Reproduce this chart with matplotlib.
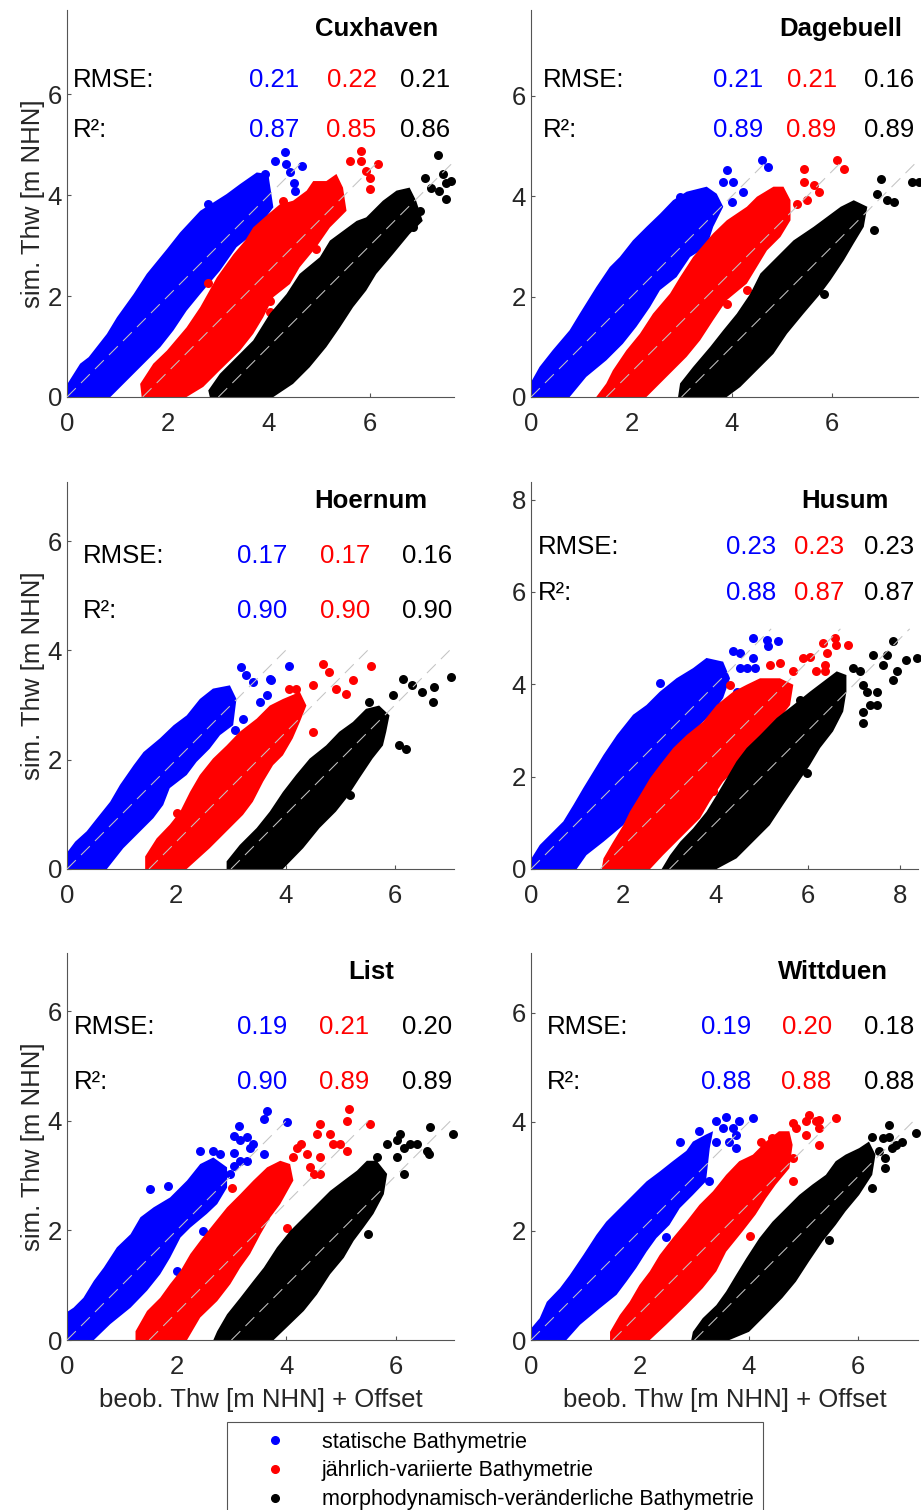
import numpy as np
import matplotlib.pyplot as plt
from matplotlib.lines import Line2D

plt.rcParams['font.family'] = ['Liberation Sans', 'DejaVu Sans']

# DATEN
stations = ["Cuxhaven", "Dagebuell", "Hoernum", "Husum", "List", "Wittduen"]
series_names = ["statische Bathymetrie",
                "jährlich-variierte Bathymetrie",
                "morphodynamisch-veränderliche Bathymetrie"]
series_colors = ["#0000ff", "#ff0000", "#000000"]
offsets = [0.0, 1.5, 3.0]

rmse_values = [[0.21, 0.22, 0.21], [0.21, 0.21, 0.16], [0.17, 0.17, 0.16],
               [0.23, 0.23, 0.23], [0.19, 0.21, 0.20], [0.19, 0.20, 0.18]]
r2_values = [[0.87, 0.85, 0.86], [0.89, 0.89, 0.89], [0.90, 0.90, 0.90],
             [0.88, 0.87, 0.87], [0.90, 0.89, 0.89], [0.88, 0.88, 0.88]]

axis_max = [7.67, 7.71, 7.08, 8.38, 7.06, 7.10]
line_len = [4.65, 4.70, 4.00, 5.20, 4.00, 4.00]

# Punktwolken: Umriss (beob. + Offset, sim.) und Einzelpunkte
cux_blue_edge = [(-0.03, 0), (-0.03, 0.2), (0.26, 0.66), (0.43, 0.79), (0.79, 1.25), (0.99, 1.58),
                 (1.32, 2.04), (1.58, 2.44), (1.98, 2.93), (2.24, 3.26), (2.64, 3.69), (3.16, 4.02),
                 (3.43, 4.22), (3.76, 4.45), (3.99, 4.42), (4.09, 3.76), (3.89, 3.49), (3.69, 3.23),
                 (3.36, 2.97), (3.03, 2.5), (2.64, 2.04), (2.37, 1.71), (2.11, 1.32), (1.85, 0.99),
                 (1.52, 0.66), (1.19, 0.33), (0.86, 0)]
cux_blue_out = [(4.12, 4.68), (4.32, 4.85), (4.35, 4.62), (4.42, 4.45), (4.5, 4.25), (4.52, 4.09),
                (4.65, 4.58), (3.92, 4.42), (2.8, 3.82)]
cux_red_edge = [(1.48, 0), (1.45, 0.26), (1.71, 0.66), (1.98, 0.92), (2.37, 1.38), (2.64, 1.78),
                (2.97, 2.37), (3.3, 2.83), (3.53, 3.1), (3.69, 3.36), (3.96, 3.6), (4.22, 3.82),
                (4.48, 3.89), (4.75, 4.09), (4.88, 4.28), (5.14, 4.28), (5.34, 4.42), (5.47, 4.15),
                (5.54, 3.69), (5.21, 3.36), (4.94, 2.97), (4.61, 2.57), (4.42, 2.24), (4.09, 1.98),
                (3.89, 1.58), (3.69, 1.25), (3.43, 0.92), (3.03, 0.53), (2.7, 0.2), (2.37, 0)]
cux_red_out = [(2.8, 2.25), (4.28, 3.89), (4.02, 1.91), (4.02, 1.68), (4.94, 2.93), (5.6, 4.68),
               (5.83, 4.88), (5.83, 4.68), (5.93, 4.48), (6.0, 4.35), (6.0, 4.12), (6.16, 4.61)]
cux_black_edge = [(2.83, 0), (2.8, 0.13), (3.03, 0.46), (3.3, 0.73), (3.69, 1.12), (4.02, 1.65),
                  (4.35, 2.04), (4.61, 2.44), (5.01, 2.77), (5.21, 3.1), (5.74, 3.49), (5.93, 3.56),
                  (6.26, 3.89), (6.53, 4.09), (6.79, 4.15), (6.92, 3.89), (7.05, 3.49), (6.79, 3.23),
                  (6.46, 2.83), (6.13, 2.44), (5.93, 2.11), (5.67, 1.78), (5.41, 1.38), (5.14, 0.99),
                  (4.81, 0.59), (4.48, 0.26), (4.09, 0)]
cux_black_out = [(7.09, 4.35), (7.35, 4.8), (7.45, 4.42), (7.52, 4.25), (7.61, 4.28), (7.52, 3.92),
                 (7.38, 4.09), (7.22, 4.15), (6.99, 3.69), (6.86, 3.36)]

dag_blue_edge = [(-0.07, 0), (-0.07, 0.17), (0.17, 0.6), (0.43, 0.93), (0.77, 1.33), (0.97, 1.66),
                 (1.3, 2.19), (1.57, 2.59), (1.77, 2.79), (2.03, 3.12), (2.3, 3.39), (2.57, 3.65),
                 (2.83, 3.92), (3.1, 4.09), (3.5, 4.19), (3.7, 4.05), (3.83, 3.79), (3.63, 3.39),
                 (3.5, 2.99), (3.17, 2.79), (2.9, 2.39), (2.57, 2.13), (2.37, 1.79), (2.1, 1.4),
                 (1.83, 1.06), (1.5, 0.73), (1.1, 0.4), (0.77, 0)]
dag_blue_out = [(3.9, 4.52), (3.83, 4.29), (4.03, 4.29), (4.0, 3.89), (4.23, 4.09), (4.6, 4.72),
                (4.73, 4.58), (2.97, 3.99)]
dag_red_edge = [(1.3, 0), (1.5, 0.27), (1.63, 0.53), (1.9, 0.93), (2.17, 1.26), (2.43, 1.66),
                (2.77, 2.06), (2.97, 2.39), (3.23, 2.79), (3.63, 3.26), (3.9, 3.52), (4.3, 3.79),
                (4.5, 3.99), (4.83, 4.19), (5.03, 4.19), (5.17, 3.92), (5.17, 3.52), (4.97, 3.19),
                (4.7, 2.92), (4.5, 2.59), (4.3, 2.26), (3.9, 1.93), (3.63, 1.53), (3.37, 1.13),
                (3.1, 0.8), (2.7, 0.4), (2.3, 0)]
dag_red_out = [(5.43, 4.55), (5.43, 4.29), (5.63, 4.22), (5.73, 4.09), (5.5, 3.92), (5.3, 3.85),
               (6.1, 4.72), (6.23, 4.55), (4.3, 2.13), (3.9, 1.86)]
dag_black_edge = [(2.93, 0), (2.97, 0.27), (3.23, 0.6), (3.57, 1.0), (3.83, 1.33), (4.1, 1.66),
                  (4.37, 2.06), (4.57, 2.46), (4.9, 2.79), (5.23, 3.12), (5.63, 3.39), (5.9, 3.59),
                  (6.17, 3.79), (6.43, 3.92), (6.7, 3.79), (6.63, 3.39), (6.43, 3.06), (6.23, 2.72),
                  (5.97, 2.33), (5.77, 2.06), (5.43, 1.66), (5.1, 1.26), (4.83, 0.86), (4.5, 0.53),
                  (4.17, 0.2), (3.9, 0)]
dag_black_out = [(6.97, 4.35), (6.9, 4.05), (7.1, 3.92), (7.23, 3.89), (6.83, 3.32), (7.6, 4.29),
                 (7.73, 4.29), (5.83, 2.06)]

hoe_blue_edge = [(-0.03, 0), (-0.03, 0.26), (0.15, 0.5), (0.36, 0.69), (0.55, 0.93), (0.79, 1.23),
                 (0.97, 1.54), (1.22, 1.9), (1.4, 2.14), (1.7, 2.39), (1.95, 2.63), (2.19, 2.81),
                 (2.43, 3.11), (2.67, 3.3), (2.98, 3.36), (3.1, 3.11), (3.04, 2.63), (2.8, 2.45),
                 (2.61, 2.2), (2.37, 1.96), (2.19, 1.72), (1.88, 1.48), (1.76, 1.17), (1.58, 0.93),
                 (1.34, 0.69), (1.03, 0.38), (0.73, 0)]
hoe_blue_out = [(3.19, 3.69), (3.28, 3.54), (3.4, 3.42), (3.53, 3.05), (3.65, 3.18), (3.71, 3.48),
                (3.74, 3.45), (4.07, 3.72), (3.22, 2.75), (3.07, 2.54)]
hoe_red_edge = [(1.43, 0), (1.43, 0.23), (1.64, 0.56), (1.88, 0.81), (2.07, 1.05), (2.25, 1.41),
                (2.43, 1.72), (2.67, 2.02), (2.92, 2.26), (3.16, 2.51), (3.47, 2.75), (3.71, 2.99),
                (3.95, 3.11), (4.26, 3.24), (4.38, 2.99), (4.26, 2.69), (4.13, 2.39), (3.95, 2.08),
                (3.77, 1.9), (3.59, 1.6), (3.4, 1.23), (3.22, 0.99), (2.98, 0.75), (2.61, 0.38),
                (2.19, 0)]
hoe_red_out = [(2.01, 1.02), (4.07, 3.3), (4.19, 3.3), (4.5, 3.36), (4.68, 3.75), (4.8, 3.6),
               (4.92, 3.3), (5.23, 3.45), (5.11, 3.21), (5.56, 3.72), (4.5, 2.51)]
hoe_black_edge = [(2.92, 0), (2.92, 0.14), (3.16, 0.44), (3.47, 0.75), (3.71, 1.05), (3.95, 1.41),
                  (4.19, 1.72), (4.44, 2.02), (4.74, 2.26), (4.98, 2.51), (5.23, 2.69), (5.47, 2.93),
                  (5.71, 2.99), (5.9, 2.81), (5.84, 2.51), (5.78, 2.26), (5.59, 2.02), (5.35, 1.66),
                  (5.11, 1.29), (4.92, 1.05), (4.62, 0.75), (4.32, 0.38), (3.95, 0)]
hoe_black_out = [(5.53, 3.05), (5.96, 3.18), (6.14, 3.48), (6.32, 3.36), (6.5, 3.24), (6.69, 3.05),
                 (6.72, 3.33), (7.02, 3.51), (6.08, 2.26), (6.2, 2.2), (5.17, 1.35)]

hus_blue_edge = [(-0.02, 0), (0.01, 0.23), (0.19, 0.52), (0.48, 0.81), (0.7, 1.03), (0.92, 1.39),
                 (1.13, 1.75), (1.35, 2.11), (1.57, 2.47), (1.86, 2.9), (2.21, 3.34), (2.5, 3.55),
                 (2.79, 3.84), (3.15, 4.13), (3.51, 4.35), (3.8, 4.57), (4.16, 4.49), (4.31, 4.13),
                 (4.16, 3.7), (3.95, 3.41), (3.66, 3.12), (3.37, 2.69), (3.08, 2.4), (2.79, 2.04),
                 (2.5, 1.68), (2.29, 1.32), (2.0, 0.95), (1.57, 0.59), (1.2, 0.3), (0.99, 0)]
hus_blue_out = [(2.79, 4.02), (4.38, 4.71), (4.52, 4.67), (4.81, 5.0), (5.1, 4.96), (5.14, 4.82),
                (5.35, 4.93), (4.81, 4.57), (4.67, 4.35), (4.85, 4.35), (4.52, 4.35), (4.45, 3.84)]
hus_red_edge = [(1.53, 0), (1.57, 0.23), (1.78, 0.59), (2.0, 0.95), (2.14, 1.24), (2.36, 1.6),
                (2.58, 1.97), (2.79, 2.25), (3.08, 2.62), (3.37, 2.9), (3.73, 3.19), (4.02, 3.55),
                (4.38, 3.84), (4.67, 3.99), (4.96, 4.13), (5.39, 4.13), (5.68, 3.99), (5.61, 3.55),
                (5.39, 3.27), (5.1, 2.9), (4.81, 2.62), (4.52, 2.25), (4.16, 1.89), (3.87, 1.46),
                (3.66, 1.1), (3.3, 0.74), (2.86, 0.3), (2.58, 0)]
hus_red_out = [(4.31, 3.99), (5.17, 4.41), (5.39, 4.46), (5.68, 4.28), (5.89, 4.57), (6.04, 4.6),
               (6.18, 4.28), (6.36, 4.42), (6.36, 4.28), (6.33, 4.89), (6.58, 5.0), (6.61, 4.86),
               (6.87, 4.86), (6.4, 4.67), (3.95, 1.68)]
hus_black_edge = [(2.83, 0), (3.01, 0.3), (3.23, 0.59), (3.51, 0.88), (3.8, 1.24), (4.02, 1.6),
                  (4.24, 1.97), (4.45, 2.33), (4.67, 2.62), (4.96, 2.9), (5.32, 3.27), (5.68, 3.55),
                  (6.04, 3.84), (6.33, 4.06), (6.62, 4.28), (6.83, 4.2), (6.83, 3.84), (6.76, 3.41),
                  (6.54, 2.98), (6.26, 2.62), (6.04, 2.25), (5.75, 1.82), (5.46, 1.39), (5.17, 0.95),
                  (4.81, 0.59), (4.45, 0.23), (4.02, 0)]
hus_black_out = [(5.82, 3.66), (6.0, 3.63), (6.98, 4.35), (7.12, 4.28), (7.19, 3.99), (7.27, 3.84),
                 (7.19, 3.41), (7.19, 3.16), (7.34, 3.55), (7.49, 3.55), (7.49, 3.84), (7.63, 4.42),
                 (7.84, 4.93), (7.92, 4.28), (7.84, 4.1), (8.13, 4.53), (8.35, 4.57), (7.41, 4.64),
                 (7.7, 4.64), (5.97, 2.07)]

list_blue_edge = [(-0.06, 0), (-0.06, 0.47), (0.12, 0.59), (0.3, 0.77), (0.49, 1.08), (0.67, 1.32),
                  (0.91, 1.69), (1.16, 1.93), (1.34, 2.24), (1.58, 2.42), (1.88, 2.6), (2.19, 2.91),
                  (2.43, 3.21), (2.67, 3.33), (2.92, 3.15), (2.92, 2.78), (2.74, 2.48), (2.55, 2.3),
                  (2.25, 2.05), (2.07, 1.87), (1.88, 1.5), (1.7, 1.2), (1.46, 0.9), (1.16, 0.59),
                  (0.79, 0.29), (0.49, 0)]
list_blue_out = [(1.52, 2.75), (1.85, 2.81), (2.49, 1.99), (2.43, 3.45), (2.67, 3.45), (2.8, 3.39),
                 (3.04, 3.42), (3.04, 3.18), (2.98, 3.03), (3.13, 3.91), (3.04, 3.73), (3.16, 3.64),
                 (3.28, 3.7), (3.34, 3.51), (3.16, 3.27), (3.28, 3.27), (3.4, 3.58), (3.59, 3.39),
                 (3.65, 4.18), (3.59, 4.03), (4.01, 3.97), (2.0, 1.26)]
list_red_edge = [(1.25, 0), (1.25, 0.16), (1.46, 0.53), (1.7, 0.77), (1.88, 1.02), (2.07, 1.26),
                 (2.25, 1.57), (2.43, 1.81), (2.67, 2.11), (2.92, 2.42), (3.16, 2.66), (3.4, 2.91),
                 (3.65, 3.15), (3.89, 3.27), (4.07, 3.21), (4.13, 2.91), (3.89, 2.48), (3.71, 2.24),
                 (3.53, 1.93), (3.34, 1.57), (3.16, 1.32), (2.98, 1.02), (2.74, 0.71), (2.43, 0.41),
                 (2.19, 0)]
list_red_out = [(3.01, 2.78), (4.01, 2.05), (4.13, 3.33), (4.19, 3.51), (4.26, 3.58), (4.38, 3.39),
                (4.44, 3.15), (4.5, 3.03), (4.62, 3.03), (4.62, 3.33), (4.56, 3.76), (4.62, 3.94),
                (4.8, 3.76), (4.86, 3.58), (4.98, 3.58), (5.11, 4.0), (5.14, 4.21), (5.11, 3.45),
                (5.53, 3.94)]
list_black_edge = [(2.67, 0), (2.74, 0.16), (2.92, 0.47), (3.16, 0.77), (3.4, 1.08), (3.59, 1.32),
                   (3.83, 1.69), (4.07, 1.99), (4.32, 2.24), (4.56, 2.48), (4.8, 2.72), (5.05, 2.91),
                   (5.29, 3.09), (5.47, 3.27), (5.65, 3.27), (5.84, 3.03), (5.78, 2.66), (5.59, 2.3),
                   (5.41, 2.05), (5.23, 1.81), (5.05, 1.5), (4.8, 1.2), (4.56, 0.83), (4.32, 0.53),
                   (4.01, 0.23), (3.77, 0)]
list_black_out = [(4.44, 0.86), (5.5, 1.93), (5.65, 3.33), (5.84, 3.58), (6.02, 3.64), (6.02, 3.33),
                  (6.14, 3.03), (6.14, 3.51), (6.08, 3.76), (6.26, 3.58), (6.38, 3.58), (6.57, 3.45),
                  (6.6, 3.39), (6.63, 3.88), (7.05, 3.76)]

witt_blue_edge = [(-0.05, 0), (-0.05, 0.15), (0.16, 0.4), (0.29, 0.7), (0.53, 0.95), (0.71, 1.19),
                  (0.96, 1.56), (1.2, 1.93), (1.38, 2.17), (1.63, 2.42), (1.87, 2.66), (2.12, 2.91),
                  (2.36, 3.09), (2.6, 3.28), (2.85, 3.47), (2.97, 3.64), (3.21, 3.77), (3.34, 3.83),
                  (3.28, 3.52), (3.21, 2.91), (2.97, 2.66), (2.73, 2.42), (2.54, 2.11), (2.3, 1.87),
                  (2.12, 1.62), (1.93, 1.32), (1.75, 1.07), (1.57, 0.83), (1.26, 0.58), (0.9, 0.28),
                  (0.65, 0)]
witt_blue_out = [(2.48, 1.89), (2.73, 3.64), (3.09, 3.83), (3.4, 4.01), (3.58, 4.1), (3.52, 3.89),
                 (3.7, 3.89), (3.64, 3.64), (3.76, 3.52), (3.82, 4.01), (4.07, 4.07), (3.76, 3.77),
                 (3.4, 3.64), (3.27, 2.91)]
witt_red_edge = [(1.45, 0), (1.45, 0.15), (1.63, 0.46), (1.81, 0.7), (1.99, 1.01), (2.18, 1.26),
                 (2.36, 1.56), (2.6, 1.87), (2.85, 2.17), (3.09, 2.48), (3.34, 2.73), (3.58, 3.03),
                 (3.82, 3.28), (4.07, 3.4), (4.31, 3.64), (4.55, 3.83), (4.74, 3.83), (4.8, 3.58),
                 (4.74, 3.15), (4.49, 2.85), (4.31, 2.6), (4.12, 2.3), (3.88, 1.99), (3.58, 1.62),
                 (3.4, 1.26), (3.15, 0.95), (2.85, 0.64), (2.48, 0.28), (2.18, 0)]
witt_red_out = [(4.01, 1.9), (4.22, 3.64), (4.43, 3.7), (4.8, 3.98), (4.86, 3.89), (5.04, 3.77),
                (5.04, 4.01), (5.1, 4.13), (5.23, 4.01), (5.29, 3.89), (5.29, 4.04), (5.29, 3.58),
                (5.59, 4.07), (4.8, 3.34), (4.8, 2.91)]
witt_black_edge = [(2.94, 0), (2.97, 0.15), (3.15, 0.4), (3.4, 0.64), (3.58, 0.89), (3.76, 1.19),
                   (3.95, 1.5), (4.19, 1.87), (4.43, 2.17), (4.68, 2.42), (4.92, 2.66), (5.16, 2.85),
                   (5.41, 3.03), (5.59, 3.28), (5.77, 3.4), (6.02, 3.52), (6.2, 3.64), (6.32, 3.4),
                   (6.26, 3.03), (6.02, 2.66), (5.77, 2.36), (5.59, 2.11), (5.35, 1.81), (5.1, 1.44),
                   (4.86, 1.07), (4.61, 0.77), (4.31, 0.46), (4.0, 0.15), (3.64, 0)]
witt_black_out = [(5.47, 1.84), (6.26, 3.73), (6.45, 3.7), (6.57, 3.73), (6.57, 3.95), (6.38, 3.46),
                  (6.5, 3.34), (6.63, 3.52), (6.69, 3.58), (6.81, 3.64), (6.5, 3.15), (7.06, 3.8),
                  (6.26, 2.79)]

edges = [[cux_blue_edge, cux_red_edge, cux_black_edge],
         [dag_blue_edge, dag_red_edge, dag_black_edge],
         [hoe_blue_edge, hoe_red_edge, hoe_black_edge],
         [hus_blue_edge, hus_red_edge, hus_black_edge],
         [list_blue_edge, list_red_edge, list_black_edge],
         [witt_blue_edge, witt_red_edge, witt_black_edge]]
outliers = [[cux_blue_out, cux_red_out, cux_black_out],
            [dag_blue_out, dag_red_out, dag_black_out],
            [hoe_blue_out, hoe_red_out, hoe_black_out],
            [hus_blue_out, hus_red_out, hus_black_out],
            [list_blue_out, list_red_out, list_black_out],
            [witt_blue_out, witt_red_out, witt_black_out]]

# LAYOUT (Achsenanteile)
W, H = 921, 1510
col_left = [67 / W, 531 / W]
row_bottom = [(H - 397) / H, (H - 869) / H, (H - 1340) / H]
ax_w, ax_h = 387 / W, 387 / H
title_x = [0.80, 0.80, 0.785, 0.81, 0.787, 0.78]
label_x = [0.015, 0.031, 0.041, 0.018, 0.018, 0.041]
rmse_y = [0.819, 0.819, 0.809, 0.831, 0.809, 0.809]
r2_y = [0.69, 0.69, 0.667, 0.712, 0.667, 0.667]
value_x = [[0.60, 0.80, 0.99], [0.60, 0.79, 0.99], [0.568, 0.783, 0.995],
           [0.633, 0.81, 0.99], [0.568, 0.78, 0.995], [0.57, 0.777, 0.99]]

txt_color = "#262626"
fs = 18.5

# GRAFIK
fig = plt.figure(figsize=(W / 100, H / 100), dpi=100)

for i, name in enumerate(stations):
    row, col = divmod(i, 2)
    ax = fig.add_axes([col_left[col], row_bottom[row], ax_w, ax_h])
    lim = axis_max[i]

    for k in range(3):
        e = np.array(edges[i][k])
        o = np.array(outliers[i][k])
        c = series_colors[k]
        # dichte Punktwolke als Flaeche, vereinzelte Punkte als Marker
        ax.fill(e[:, 0], e[:, 1], color=c, lw=0, zorder=2 + 0.1 * k)
        ax.scatter(o[:, 0], o[:, 1], s=42, color=c, linewidths=0,
                   zorder=2 + 0.1 * k, clip_on=False)

    # 1:1-Linien je Offset
    for off in offsets:
        ax.plot([off, off + line_len[i]], [0, line_len[i]], color="#c4c4c4",
                lw=0.75, ls=(0, (12, 7)), zorder=4)

    ax.set_xlim(0, lim)
    ax.set_ylim(0, lim)
    ticks = np.arange(0, lim + 0.01, 2)
    ax.set_xticks(ticks)
    ax.set_yticks(ticks)
    ax.set_xticklabels([f"{t:.0f}" for t in ticks])
    ax.set_yticklabels([f"{t:.0f}" for t in ticks])

    for side in ["top", "right"]:
        ax.spines[side].set_visible(False)
    for side in ["left", "bottom"]:
        ax.spines[side].set_color("#555555")
        ax.spines[side].set_linewidth(0.8)
    ax.tick_params(direction="in", length=3, width=0.8, color="#555555",
                   labelsize=fs, labelcolor=txt_color)
    ax.tick_params(axis="x", pad=11)
    ax.tick_params(axis="y", pad=3.5)

    ax.text(title_x[i], 0.95, name, transform=ax.transAxes, ha="center",
            va="center", fontsize=fs, fontweight="bold", color="black")
    ax.text(label_x[i], rmse_y[i], "RMSE:", transform=ax.transAxes,
            ha="left", va="center", fontsize=fs, color="black")
    ax.text(label_x[i], r2_y[i], "R²:", transform=ax.transAxes,
            ha="left", va="center", fontsize=fs, color="black")
    for k in range(3):
        ax.text(value_x[i][k], rmse_y[i], f"{rmse_values[i][k]:.2f}",
                transform=ax.transAxes, ha="right", va="center",
                fontsize=fs, color=series_colors[k])
        ax.text(value_x[i][k], r2_y[i], f"{r2_values[i][k]:.2f}",
                transform=ax.transAxes, ha="right", va="center",
                fontsize=fs, color=series_colors[k])

    if col == 0:
        ax.set_ylabel("sim. Thw [m NHN]", fontsize=fs, color=txt_color, labelpad=2)
    if row == 2:
        ax.set_xlabel("beob. Thw [m NHN] + Offset", fontsize=fs, color=txt_color, labelpad=6)

handles = [Line2D([], [], ls="none", marker="o", markersize=5.5,
                  markerfacecolor=c, markeredgecolor=c) for c in series_colors]
leg = fig.legend(handles, series_names, loc="upper left",
                 bbox_to_anchor=(227 / W, 1 - 1422 / H), borderaxespad=0,
                 fontsize=15.5, frameon=True, fancybox=False, framealpha=1,
                 edgecolor="#555555", borderpad=0.45, handlelength=3.55,
                 handletextpad=0.4, labelspacing=0.36)
leg.get_frame().set_linewidth(0.8)

fig.savefig("out.png", dpi=100)
